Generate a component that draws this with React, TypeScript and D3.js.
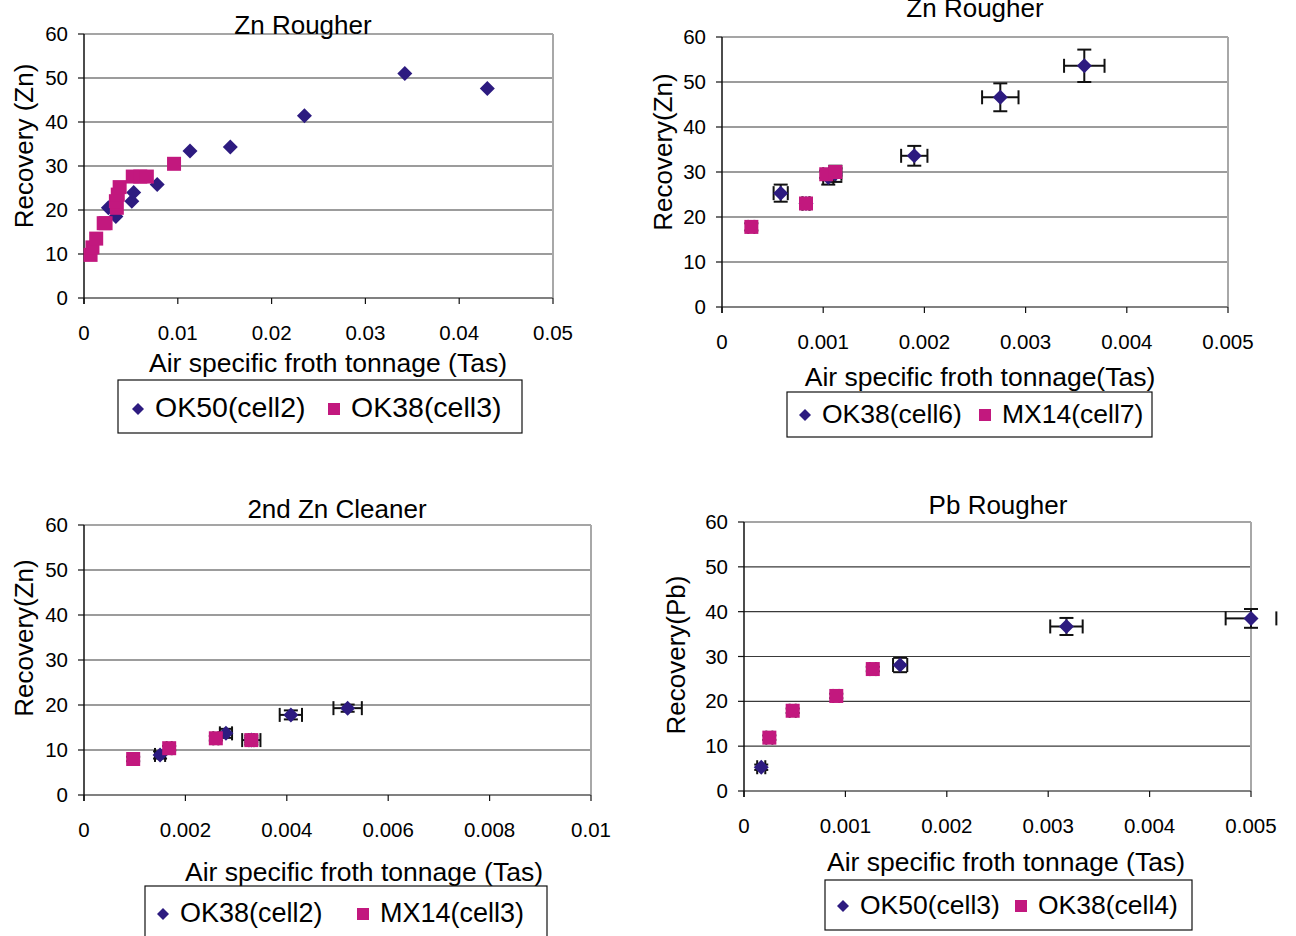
import React from "react";
import * as d3 from "d3";

type Pt = { x: number; y: number; ex?: number; ey?: number };

// Panel 1: Zn Rougher (no error bars)
const p1Ok50: Pt[] = [
  { x: 0.0026, y: 20.5 }, { x: 0.0034, y: 18.5 }, { x: 0.0051, y: 22 },
  { x: 0.0053, y: 24 }, { x: 0.0078, y: 25.8 }, { x: 0.0113, y: 33.4 },
  { x: 0.0156, y: 34.3 }, { x: 0.0235, y: 41.4 }, { x: 0.0342, y: 51 },
  { x: 0.043, y: 47.6 },
];
const p1Ok38: Pt[] = [
  { x: 0.0007, y: 9.8 }, { x: 0.0009, y: 11.5 }, { x: 0.0013, y: 13.5 },
  { x: 0.0021, y: 17 }, { x: 0.0023, y: 17 }, { x: 0.0035, y: 20.5 },
  { x: 0.0034, y: 22 }, { x: 0.0036, y: 23.5 }, { x: 0.0038, y: 25.2 },
  { x: 0.0052, y: 27.6 }, { x: 0.006, y: 27.6 }, { x: 0.0067, y: 27.6 },
  { x: 0.0096, y: 30.5 },
];

// Panel 2: Zn Rougher (with error bars)
const p2Ok38: Pt[] = [
  { x: 0.00058, y: 25.3, ex: 0.00007, ey: 1.9 },
  { x: 0.00083, y: 23, ex: 0.00004, ey: 1.0 },
  { x: 0.00105, y: 28.8, ex: 0.00005, ey: 1.6 },
  { x: 0.00112, y: 29.6, ex: 0.00006, ey: 1.8 },
  { x: 0.0019, y: 33.6, ex: 0.00013, ey: 2.2 },
  { x: 0.00275, y: 46.6, ex: 0.00018, ey: 3.1 },
  { x: 0.00358, y: 53.6, ex: 0.0002, ey: 3.6 },
];
const p2Mx14: Pt[] = [
  { x: 0.00029, y: 17.8, ex: 0.00003, ey: 0.8 },
  { x: 0.00083, y: 23, ex: 0.00003, ey: 1.0 },
  { x: 0.00103, y: 29.5, ex: 0.00003, ey: 0.8 },
  { x: 0.00112, y: 30, ex: 0.00003, ey: 0.8 },
];

// Panel 3: 2nd Zn Cleaner
const p3Ok38: Pt[] = [
  { x: 0.0015, y: 8.9, ex: 0.0001, ey: 0.8 },
  { x: 0.0028, y: 13.7, ex: 0.00012, ey: 1 },
  { x: 0.0033, y: 12.2, ex: 0.00018, ey: 1 },
  { x: 0.00408, y: 17.8, ex: 0.00022, ey: 1 },
  { x: 0.0052, y: 19.3, ex: 0.00028, ey: 0.8 },
];
const p3Mx14: Pt[] = [
  { x: 0.00097, y: 8, ex: 0.00005, ey: 0.5 },
  { x: 0.00168, y: 10.4, ex: 0.00005, ey: 0.5 },
  { x: 0.0026, y: 12.6, ex: 0.00005, ey: 0.5 },
  { x: 0.0033, y: 12.2, ex: 0.00005, ey: 0.5 },
];

// Panel 4: Pb Rougher
const p4Ok50: Pt[] = [
  { x: 0.00017, y: 5.3, ex: 0.00004, ey: 0.6 },
  { x: 0.00154, y: 28.1, ex: 0.00007, ey: 1.6 },
  { x: 0.00318, y: 36.7, ex: 0.00016, ey: 1.9 },
  { x: 0.005, y: 38.5, ex: 0.00025, ey: 2.1 },
];
const p4Ok38: Pt[] = [
  { x: 0.00025, y: 11.9, ex: 0.00003, ey: 0.5 },
  { x: 0.00048, y: 17.9, ex: 0.00003, ey: 0.5 },
  { x: 0.00091, y: 21.2, ex: 0.00003, ey: 0.5 },
  { x: 0.00127, y: 27.2, ex: 0.00003, ey: 0.5 },
];

const yTicks = [0, 10, 20, 30, 40, 50, 60];
const xTicksA = [0, 0.01, 0.02, 0.03, 0.04, 0.05];
const xTicksB = [0, 0.001, 0.002, 0.003, 0.004, 0.005];
const xTicksC = [0, 0.002, 0.004, 0.006, 0.008, 0.01];

const NAVY = "#2d1b80";
const MAGENTA = "#c2187e";
const FONT = "'Liberation Sans', Arial, sans-serif";

type PanelProps = {
  l: number; r: number; t: number; b: number;
  xTicks: number[];
  title: string; titleY: number; titleX: number;
  yTitle: string; yTitleX: number; yTitleY: number;
  xTitle: string; xTitleX: number; xTitleY: number;
  tickY: number;
  s1: Pt[]; s2: Pt[]; n1: string; n2: string;
  leg: { x0: number; x1: number; y0: number; y1: number; d: number; s: number; ty: number; fs: number };
};

function ErrBars({ data, xs, ys, l, r }: { data: Pt[]; xs: any; ys: any; l: number; r: number }) {
  return (
    <g stroke="#111" strokeWidth={2}>
      {data.map((p, i) => {
        const cx = xs(p.x), cy = ys(p.y);
        const x0 = xs(p.x - (p.ex || 0)), x1 = xs(p.x + (p.ex || 0));
        const y0 = ys(p.y - (p.ey || 0)), y1 = ys(p.y + (p.ey || 0));
        return (
          <g key={i}>
            <line x1={cx} x2={cx} y1={y0} y2={y1} />
            <line x1={cx - 7} x2={cx + 7} y1={y0} y2={y0} />
            <line x1={cx - 7} x2={cx + 7} y1={y1} y2={y1} />
            <line x1={Math.max(x0, l)} x2={Math.min(x1, r)} y1={cy} y2={cy} />
            <line x1={x0} x2={x0} y1={cy - 7} y2={cy + 7} />
            <line x1={x1} x2={x1} y1={cy - 7} y2={cy + 7} />
          </g>
        );
      })}
    </g>
  );
}

const diamond = (cx: number, cy: number, h: number) =>
  `M${cx},${cy - h}L${cx + h},${cy}L${cx},${cy + h}L${cx - h},${cy}Z`;

function Panel(p: PanelProps) {
  const xs = d3.scaleLinear().domain([p.xTicks[0], p.xTicks[p.xTicks.length - 1]]).range([p.l, p.r]);
  const ys = d3.scaleLinear().domain([0, 60]).range([p.b, p.t]);
  const hasErr = p.s1.some((d) => d.ex !== undefined);
  const fmt = (v: number) => (v === 0 ? "0" : String(+v.toFixed(4)));
  return (
    <g fontFamily={FONT} fill="#000">
      {yTicks.map((v) => (
        <line key={v} x1={p.l} x2={p.r} y1={ys(v)} y2={ys(v)} stroke="#3a3a3a" strokeWidth={1.2} />
      ))}
      <line x1={p.r} x2={p.r} y1={p.t} y2={p.b} stroke="#a8a8a8" strokeWidth={2} />
      <line x1={p.l} x2={p.r} y1={p.t} y2={p.t} stroke="#a8a8a8" strokeWidth={1.5} />
      <line x1={p.l} x2={p.r} y1={p.b} y2={p.b} stroke="#777" strokeWidth={1.5} />
      <line x1={p.l} x2={p.l} y1={p.t} y2={p.b + 6} stroke="#111" strokeWidth={1.5} />
      {yTicks.map((v) => (
        <g key={"yt" + v}>
          <line x1={p.l - 6} x2={p.l} y1={ys(v)} y2={ys(v)} stroke="#111" strokeWidth={1.2} />
          <text x={p.l - 16} y={ys(v) + 7} textAnchor="end" fontSize={20.5}>{v}</text>
        </g>
      ))}
      {p.xTicks.map((v) => (
        <g key={"xt" + v}>
          <line x1={xs(v)} x2={xs(v)} y1={p.b} y2={p.b + 6} stroke="#111" strokeWidth={1.2} />
          <text x={xs(v)} y={p.tickY} textAnchor="middle" fontSize={20.5}>{fmt(v)}</text>
        </g>
      ))}
      <text x={p.titleX} y={p.titleY} textAnchor="middle" fontSize={26}>{p.title}</text>
      <text x={p.xTitleX} y={p.xTitleY} textAnchor="middle" fontSize={26.5}>{p.xTitle}</text>
      <text transform={`translate(${p.yTitleX},${p.yTitleY}) rotate(-90)`} textAnchor="middle" fontSize={26}>{p.yTitle}</text>

      {hasErr && <ErrBars data={p.s1} xs={xs} ys={ys} l={p.l} r={p.r} />}
      {p.s1.map((d, i) => (
        <path key={"a" + i} d={diamond(xs(d.x), ys(d.y), 7.5)} fill={NAVY} />
      ))}
      {hasErr && <ErrBars data={p.s2} xs={xs} ys={ys} l={p.l} r={p.r} />}
      {p.s2.map((d, i) => (
        <rect key={"b" + i} x={xs(d.x) - 7} y={ys(d.y) - 7} width={14} height={14} fill={MAGENTA} />
      ))}

      <rect x={p.leg.x0} y={p.leg.y0} width={p.leg.x1 - p.leg.x0} height={p.leg.y1 - p.leg.y0}
        fill="#fff" stroke="#111" strokeWidth={1.2} />
      <path d={diamond(p.leg.d, p.leg.ty - 8, 6)} fill={NAVY} />
      <text x={p.leg.d + 17} y={p.leg.ty} fontSize={p.leg.fs}>{p.n1}</text>
      <rect x={p.leg.s - 6} y={p.leg.ty - 14} width={12} height={12} fill={MAGENTA} />
      <text x={p.leg.s + 17} y={p.leg.ty} fontSize={p.leg.fs}>{p.n2}</text>
    </g>
  );
}

export default function App() {
  return (
    <svg width={1296} height={936} style={{ position: "absolute", left: 0, top: 0, background: "#fff" }}>
      <Panel l={84} r={553} t={34} b={298} xTicks={xTicksA}
        title="Zn Rougher" titleX={303} titleY={34}
        yTitle="Recovery (Zn)" yTitleX={33} yTitleY={146}
        xTitle="Air specific froth tonnage (Tas)" xTitleX={328} xTitleY={372}
        tickY={340} s1={p1Ok50} s2={p1Ok38} n1="OK50(cell2)" n2="OK38(cell3)"
        leg={{ x0: 118, x1: 522, y0: 380, y1: 433, d: 138, s: 334, ty: 417, fs: 28.5 }} />
      <Panel l={722} r={1228} t={37} b={307} xTicks={xTicksB}
        title="Zn Rougher" titleX={975} titleY={17}
        yTitle="Recovery(Zn)" yTitleX={672} yTitleY={152}
        xTitle="Air specific froth tonnage(Tas)" xTitleX={980} xTitleY={386}
        tickY={349} s1={p2Ok38} s2={p2Mx14} n1="OK38(cell6)" n2="MX14(cell7)"
        leg={{ x0: 787, x1: 1152, y0: 392, y1: 437, d: 805, s: 985, ty: 423, fs: 26.5 }} />
      <Panel l={84} r={591} t={525} b={795} xTicks={xTicksC}
        title="2nd Zn Cleaner" titleX={337} titleY={518}
        yTitle="Recovery(Zn)" yTitleX={33} yTitleY={638}
        xTitle="Air specific froth tonnage (Tas)" xTitleX={364} xTitleY={881}
        tickY={837} s1={p3Ok38} s2={p3Mx14} n1="OK38(cell2)" n2="MX14(cell3)"
        leg={{ x0: 145, x1: 547, y0: 886, y1: 940, d: 163, s: 363, ty: 922, fs: 27 }} />
      <Panel l={744} r={1251} t={522} b={791} xTicks={xTicksB}
        title="Pb Rougher" titleX={998} titleY={514}
        yTitle="Recovery(Pb)" yTitleX={685} yTitleY={655}
        xTitle="Air specific froth tonnage (Tas)" xTitleX={1006} xTitleY={871}
        tickY={833} s1={p4Ok50} s2={p4Ok38} n1="OK50(cell3)" n2="OK38(cell4)"
        leg={{ x0: 825, x1: 1192, y0: 880, y1: 930, d: 843, s: 1021, ty: 914, fs: 26.5 }} />
    </svg>
  );
}
